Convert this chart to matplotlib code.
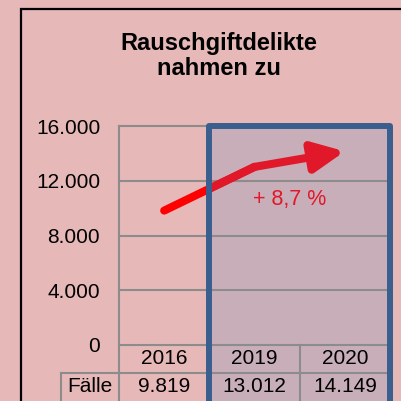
import matplotlib.pyplot as plt
from matplotlib.patches import Rectangle
import matplotlib.transforms as mtransforms

# data
years = ["2016", "2019", "2020"]
cases = [9819, 13012, 14149]
case_labels = ["9.819", "13.012", "14.149"]
yticks = [0, 4000, 8000, 12000, 16000]
ytick_labels = ["0", "4.000", "8.000", "12.000", "16.000"]
change_label = "+ 8,7 %"
row_label = "Fälle"
title_lines = ["Rauschgiftdelikte", "nahmen zu"]

BG = "#E6B8B7"
BOX_FILL = "#C8AEB8"
BOX_EDGE = "#3A5F8E"
GRID = "#8C8C8C"
RED = "#FF0000"
CRIMSON = "#E0182A"

plt.rcParams['font.family'] = ['Liberation Sans', 'DejaVu Sans']

W = H = 401
fig = plt.figure(figsize=(4.01, 4.01), dpi=100, facecolor=BG)

def fx(px):
    return px / W

def fy(py):
    return 1 - py / H

# outer black frame
fig.patches.append(Rectangle((fx(21), fy(9) - 1.2), 1.2, 1.2, transform=fig.transFigure,
                             fill=False, edgecolor="black", lw=1.6))

# title
fig.text(fx(219), fy(50), title_lines[0], ha="center", va="baseline",
         fontsize=17, fontweight="bold")
fig.text(fx(219), fy(75), title_lines[1], ha="center", va="baseline",
         fontsize=17, fontweight="bold")

left, right, top, bottom = 119, 390, 126, 345
ax = fig.add_axes([fx(left), fy(bottom), (right - left) / W, (bottom - top) / H])
ax.set_facecolor("none")
x = list(range(len(years)))
ax.set_xlim(-0.5, len(years) - 0.5)
ax.set_ylim(0, 16000)

for s in ["top", "right", "bottom", "left"]:
    ax.spines[s].set_visible(False)
ax.set_xticks([])
ax.set_yticks(yticks)
ax.set_yticklabels(ytick_labels, fontsize=15)
ax.tick_params(axis="y", length=0, pad=13.5)

# highlight box for 2019-2020
box_y0 = -7000
fill = Rectangle((0.5, box_y0), 2, 16000 - box_y0, facecolor=BOX_FILL,
                 edgecolor="none", zorder=0.5, clip_on=False)
ax.add_patch(fill)
edge = Rectangle((0.5, box_y0), 2, 16000 - box_y0, facecolor="none",
                 edgecolor=BOX_EDGE, lw=4.3, joinstyle="round", zorder=5, clip_on=False)
ax.add_patch(edge)

# gridlines
for t in yticks:
    ax.axhline(t, color=GRID, lw=1.5, zorder=1, clip_on=False)

# table lines (x in data, y in axes coords)
blend = mtransforms.blended_transform_factory(ax.transData, ax.transAxes)
row1 = -28 / (bottom - top)
row2 = -56 / (bottom - top)
bot = -1.0
fall_left = -0.5 - (left - 61) / ((right - left) / len(years))
ax.plot([-0.5, -0.5], [1, bot], color=GRID, lw=1.5, transform=blend, clip_on=False, zorder=1)
ax.plot([1.5, 1.5], [0, bot], color=GRID, lw=1.5, transform=blend, clip_on=False, zorder=1)
ax.plot([fall_left, 2.5], [row1, row1], color=GRID, lw=1.5, transform=blend, clip_on=False, zorder=1)
ax.plot([fall_left, fall_left], [row1, bot], color=GRID, lw=1.5, transform=blend, clip_on=False, zorder=1)

for xi, yr, lab in zip(x, years, case_labels):
    ax.text(xi, row1 / 2, yr, ha="center", va="center", fontsize=15,
            transform=blend, clip_on=False)
    ax.text(xi, (row1 + row2) / 2, lab, ha="center", va="center", fontsize=15,
            transform=blend, clip_on=False)
ax.text((fall_left - 0.5) / 2, (row1 + row2) / 2, row_label, ha="center", va="center",
        fontsize=15, transform=blend, clip_on=False)

# trend arrow
ax.plot(x[:2], cases[:2], color=RED, lw=5.8, solid_capstyle="round", zorder=3)
inner, = ax.plot(x[:2], cases[:2], color=CRIMSON, lw=5.8, solid_capstyle="round", zorder=3.1)
inner.set_clip_path(fill)
ax.annotate("", xy=(x[2], cases[2]), xytext=(x[1], cases[1]),
            arrowprops=dict(arrowstyle="-|>,head_length=0.95,head_width=0.45",
                            color=CRIMSON, lw=5.8, mutation_scale=20,
                            shrinkA=0, shrinkB=0), zorder=3.2)

ax.text(1.39, 10600, change_label, ha="center", va="center", fontsize=15.5, color=CRIMSON)

fig.savefig("out.png", dpi=100, facecolor=BG)
